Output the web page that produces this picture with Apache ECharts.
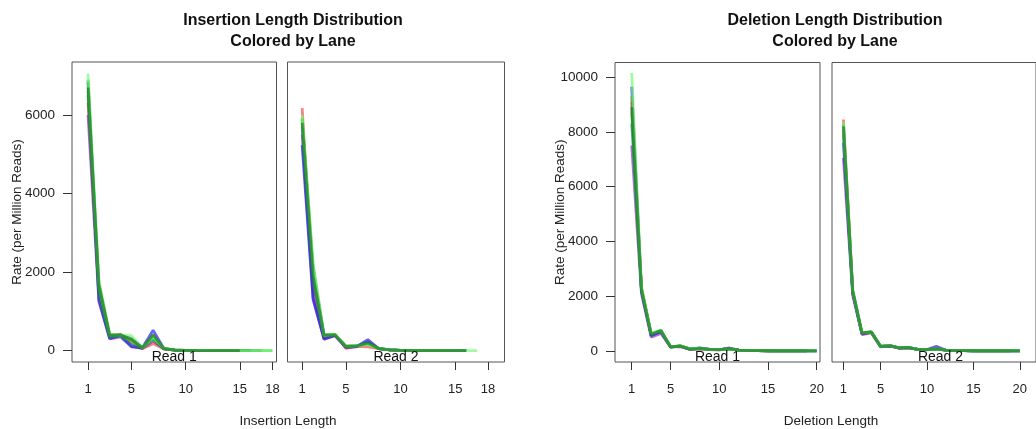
<!DOCTYPE html>
<html>
<head>
<meta charset="utf-8">
<script src="https://cdn.jsdelivr.net/npm/echarts@6/dist/echarts.min.js"></script>
<style>
html,body{margin:0;padding:0;background:#fff;}
#c{width:1036px;height:429px;}
</style>
</head>
<body>
<div id="c"></div>
<script>
// ---------------- DATA ----------------
const laneNames = ['Lane 1','Lane 2','Lane 3','Lane 4','Lane 5','Lane 6','Lane 7','Lane 8'];

const insLengths = [1,2,3,4,5,6,7,8,9,10,11,12,13,14,15,16,17,18];
const delLengths = [1,2,3,4,5,6,7,8,9,10,11,12,13,14,15,16,17,18,19,20];

const insTicks = [1,5,10,15,18];
const delTicks = [1,5,10,15,20];
const insYTicks = [0,2000,4000,6000];
const delYTicks = [0,2000,4000,6000,8000,10000];

// Insertion, Read 1 (per lane)
const insR1 = [
  [6300,1500,350,420,200,50,180,40,12,8,5,3,2,1,1,0.5,null,null],
  [6000,1250,300,350,100,60,250,45,15,6,4,3,2,1,1,null,null,null],
  [6850,1300,310,380,110,70,520,50,15,8,5,3,2,1,1,1,null,null],
  [6500,1400,330,390,150,70,300,50,14,7,4,3,2,1,1,1,0.5,null],
  [6600,1650,380,400,280,75,380,55,18,8,5,3,2,1,1,1,null,null],
  [6900,1600,380,380,250,70,300,50,16,8,5,3,2,1,1,1,1,0.5],
  [7050,1800,420,400,380,80,350,60,20,10,8,5,3,2,2,1,1,0.5],
  [6700,1700,400,400,300,80,400,55,18,8,5,3,2,1,1,null,null,null]
];
// Insertion, Read 2
const insR2 = [
  [6175,1600,330,425,60,110,100,50,20,8,5,3,2,1,1,null,null],
  [5500,1350,290,380,80,100,230,50,18,6,4,3,2,1,1,1,null],
  [5234,1300,300,390,90,110,280,55,20,8,5,3,2,1,1,1,null],
  [5700,1700,350,400,100,115,200,50,20,8,5,3,2,1,1,1,null],
  [5900,2000,380,410,110,120,180,55,22,8,5,3,2,1,1,null,null],
  [5916,2200,400,410,120,125,170,60,25,9,5,3,2,1,1,1,null],
  [6000,2100,390,420,115,120,160,55,22,9,5,3,2,1,1,1,0.5],
  [5800,1900,400,400,110,120,200,55,22,8,5,3,2,1,1,1,null]
];
// Deletion, Read 1
const delR1 = [
  [9100,2300,600,720,150,170,60,80,50,45,80,30,15,10,8,6,5,4,3,null],
  [7500,2100,500,640,140,160,60,90,55,45,110,30,15,10,8,6,5,4,3,null],
  [9650,2200,560,700,150,180,70,110,60,50,90,30,15,10,8,6,5,4,3,3],
  [8300,2250,600,720,150,180,70,90,55,50,80,30,15,10,8,6,5,4,3,3],
  [9300,2300,620,740,150,185,70,90,60,50,80,30,15,10,8,6,5,4,3,null],
  [8700,2300,630,757,150,190,75,100,60,50,80,30,15,10,8,6,5,4,3,3],
  [10150,2350,650,760,160,190,75,100,60,50,80,30,15,10,8,6,5,4,3,3],
  [8900,2250,610,750,146,183,70,95,60,50,85,30,15,10,8,6,5,4,3,3]
];
// Deletion, Read 2
const delR2 = [
  [8450,2150,620,680,160,190,100,120,60,50,80,30,15,10,8,6,5,4,3,3],
  [7050,2050,600,660,150,180,100,110,55,45,90,30,15,10,8,6,5,4,3,null],
  [7600,2100,630,690,165,190,110,120,60,50,170,30,15,10,8,6,5,4,3,3],
  [7900,2150,640,690,170,195,110,120,60,50,80,30,15,10,8,6,5,4,3,3],
  [8100,2200,650,695,170,195,110,125,60,50,80,30,15,10,8,6,5,4,3,null],
  [8300,2220,660,700,175,195,110,130,60,50,80,30,15,10,8,6,5,4,3,3],
  [8350,2220,670,700,175,200,115,140,60,50,80,30,15,10,8,6,5,4,3,3],
  [8200,2200,658,695,171,195,110,130,60,50,80,30,15,10,8,6,5,4,3,3]
];

// ---------------- STYLE / LAYOUT ----------------
const laneColors = [
  'rgba(240,50,50,0.6)','rgba(130,20,190,0.6)','rgba(20,20,230,0.65)','rgba(30,120,150,0.6)',
  'rgba(100,150,20,0.6)','rgba(30,190,30,0.6)','rgba(110,250,110,0.65)','rgba(30,120,45,0.7)'
];
const FONT = 'Liberation Sans, Arial, Helvetica, sans-serif';

const panels = [
  {grid:{left:72, top:62, width:204.5, height:300}, xmin:-0.48, xmax:18.38, ymin:-288, ymax:7350,
   xs:insLengths, data:insR1, xt:insTicks, yt:insYTicks, showY:true, label:'Read 1'},
  {grid:{left:287.5, top:62, width:217, height:300}, xmin:-0.34, xmax:19.5, ymin:-288, ymax:7350,
   xs:insLengths, data:insR2, xt:insTicks, yt:insYTicks, showY:false, label:'Read 2'},
  {grid:{left:615, top:62.5, width:205, height:299.5}, xmin:-0.715, xmax:20.34, ymin:-402, ymax:10530,
   xs:delLengths, data:delR1, xt:delTicks, yt:delYTicks, showY:true, label:'Read 1'},
  {grid:{left:832, top:62.5, width:217, height:299.5}, xmin:-0.23, xmax:21.74, ymin:-402, ymax:10530,
   xs:delLengths, data:delR2, xt:delTicks, yt:delYTicks, showY:false, label:'Read 2'}
];

const grids = [], xAxes = [], yAxes = [], series = [], graphics = [];
panels.forEach((p, i) => {
  grids.push(Object.assign({show:true, borderColor:'#555', borderWidth:1, backgroundColor:'transparent', containLabel:false}, p.grid));
  xAxes.push({
    type:'value', gridIndex:i, min:p.xmin, max:p.xmax,
    axisLine:{show:false, onZero:false},
    splitLine:{show:false},
    axisTick:{show:true, customValues:p.xt, length:8, lineStyle:{color:'#333'}},
    axisLabel:{show:true, customValues:p.xt, margin:21, fontSize:13, color:'#222', fontFamily:FONT,
               formatter: v => String(v)}
  });
  yAxes.push({
    type:'value', gridIndex:i, min:p.ymin, max:p.ymax,
    axisLine:{show:false, onZero:false},
    splitLine:{show:false},
    axisTick:{show:p.showY, customValues:p.yt, length:9, lineStyle:{color:'#333'}},
    axisLabel:{show:p.showY, customValues:p.yt, margin:17, fontSize:13.5, color:'#222', fontFamily:FONT,
               formatter: v => String(v)}
  });
  p.data.forEach((lane, k) => {
    series.push({
      type:'line', name:laneNames[k], xAxisIndex:i, yAxisIndex:i,
      data: p.xs.map((x, j) => [x, lane[j]]),
      showSymbol:false, symbol:'none', connectNulls:false, silent:true,
      lineStyle:{color:laneColors[k], width:2.8},
      itemStyle:{color:laneColors[k]},
      z: 2 + k, animation:false
    });
  });
  graphics.push({
    type:'text', x: p.grid.left + p.grid.width/2, y: 350,
    style:{text:p.label, fontSize:14, fill:'#111', fontFamily:FONT, textAlign:'center', textVerticalAlign:'top'}, z:100
  });
  if (p.showY) {
    graphics.push({
      type:'text', x: p.grid.left - 54.5, y: p.grid.top + p.grid.height/2, rotation: Math.PI/2,
      style:{text:'Rate (per Million Reads)', fontSize:13.5, fill:'#222', fontFamily:FONT,
             textAlign:'center', textVerticalAlign:'middle'}
    });
  }
});

graphics.push({type:'text', x:288, y:414, style:{text:'Insertion Length', fontSize:13.5, fill:'#222', fontFamily:FONT, textAlign:'center'}});
graphics.push({type:'text', x:831, y:414, style:{text:'Deletion Length', fontSize:13.5, fill:'#222', fontFamily:FONT, textAlign:'center'}});

const chart = echarts.init(document.getElementById('c'), null, {renderer:'canvas'});
chart.setOption({
  animation:false,
  backgroundColor:'#fff',
  title:[
    {text:'Insertion Length Distribution\nColored by Lane', left:288, top:5, textAlign:'center',
     textStyle:{fontSize:16, fontWeight:'bold', color:'#111', lineHeight:21, fontFamily:FONT}},
    {text:'Deletion Length Distribution\nColored by Lane', left:830, top:5, textAlign:'center',
     textStyle:{fontSize:16, fontWeight:'bold', color:'#111', lineHeight:21, fontFamily:FONT}}
  ],
  grid:grids, xAxis:xAxes, yAxis:yAxes, series:series, graphic:graphics
});
</script>
</body>
</html>
